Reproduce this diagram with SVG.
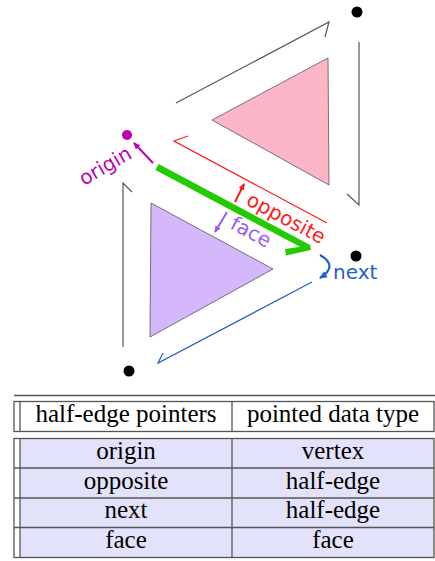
<svg xmlns="http://www.w3.org/2000/svg" width="435" height="561" viewBox="0 0 435 561">
<style>
.edge{fill:none;stroke:#555;stroke-width:1.2}
.lbl{font-family:"DejaVu Sans",sans-serif;font-size:20px}
.tt{font-family:"Liberation Serif",serif;font-size:25px;fill:#000;text-anchor:middle}
.tl{stroke:#555;stroke-width:1.3;fill:none}
</style>
<defs>
<marker id="mM" markerWidth="8" markerHeight="8" refX="6" refY="4" orient="auto" markerUnits="userSpaceOnUse"><path d="M0,1 L7,4 L0,7 z" fill="#c000b0"/></marker>
<marker id="mR" markerWidth="8" markerHeight="8" refX="6" refY="4" orient="auto" markerUnits="userSpaceOnUse"><path d="M0,1 L7,4 L0,7 z" fill="#ff1a1a"/></marker>
<marker id="mP" markerWidth="8" markerHeight="8" refX="6" refY="4" orient="auto" markerUnits="userSpaceOnUse"><path d="M0,1 L7,4 L0,7 z" fill="#9a5cf0"/></marker>
<marker id="mB" markerWidth="10" markerHeight="10" refX="7" refY="5" orient="auto" markerUnits="userSpaceOnUse"><path d="M0,1.5 L8,5 L0,8.5 z" fill="#1f5fc8"/></marker>
</defs>

<g id="face-upper"><polygon points="212,120 328,58 329,185" fill="#fbb6c8" stroke="#555" stroke-width="0.8"/></g>
<g id="face-lower"><polygon points="151,203 273,269 150,337" fill="#d4b8fb" stroke="#555" stroke-width="0.8"/></g>

<g id="vertex-top"><circle cx="357" cy="12" r="5.5" fill="#000"/></g>
<g id="vertex-right"><circle cx="356" cy="256" r="5.5" fill="#000"/></g>
<g id="vertex-bottom"><circle cx="129" cy="371" r="5.5" fill="#000"/></g>
<g id="vertex-origin"><circle cx="127" cy="135" r="5" fill="#c000b0"/></g>

<g id="connectors">
<polyline class="edge" points="176,103 329,22 325,37"/>
<polyline class="edge" points="359,42 359,205 347,194"/>
<polyline class="edge" points="132,192 123,183 123,347"/>
<polyline points="188,136 174,141 327,223" fill="none" stroke="#ff1a1a" stroke-width="1.2"/>
<polyline points="312,282 158,363 163,353" fill="none" stroke="#1f5fc8" stroke-width="1.2"/>
<polygon points="158.6,163.9 310,245 311,250 286,255.5 285,249 300,246.8 155.4,170.1" fill="#22cc00"/>
<line x1="153" y1="163" x2="134" y2="143" stroke="#c000b0" stroke-width="2" marker-end="url(#mM)"/>
<line x1="235" y1="202" x2="244" y2="184" stroke="#ff1a1a" stroke-width="2" marker-end="url(#mR)"/>
<line x1="227" y1="212" x2="215" y2="232" stroke="#9a5cf0" stroke-width="2" marker-end="url(#mP)"/>
<path d="M320,255 Q339,266 320,278" fill="none" stroke="#1f5fc8" stroke-width="2.2" marker-end="url(#mB)"/>
</g>

<g id="labels">
<text class="lbl" fill="#c000b0" font-size="19" transform="translate(84,186) rotate(-30)">origin</text>
<text class="lbl" fill="#ff1a1a" transform="translate(245,204) rotate(28)">opposite</text>
<text class="lbl" fill="#9a5cf0" transform="translate(229,228) rotate(28)">face</text>
<text class="lbl" fill="#1f5fc8" x="333" y="279">next</text>
</g>

<g id="table">
<line x1="14" y1="395.5" x2="435" y2="395.5" stroke="#555" stroke-width="1.6"/>
<rect x="14" y="401.5" width="420" height="30" fill="#fff" class="tl"/>
<line class="tl" x1="20" y1="401.5" x2="20" y2="431.5"/>
<line class="tl" x1="232" y1="401.5" x2="232" y2="431.5"/>
<text class="tt" x="126" y="422">half-edge pointers</text>
<text class="tt" x="333" y="422">pointed data type</text>

<rect x="20" y="438.5" width="414" height="119" fill="#e2e2fb"/>
<rect x="14" y="438.5" width="420" height="119" class="tl"/>
<line class="tl" x1="20" y1="438.5" x2="20" y2="557.5"/>
<line class="tl" x1="232" y1="438.5" x2="232" y2="557.5"/>
<line class="tl" x1="14" y1="468" x2="434" y2="468"/>
<line class="tl" x1="14" y1="498" x2="434" y2="498"/>
<line class="tl" x1="14" y1="527.5" x2="434" y2="527.5"/>
<text class="tt" x="126" y="459">origin</text>
<text class="tt" x="333" y="459">vertex</text>
<text class="tt" x="126" y="489">opposite</text>
<text class="tt" x="333" y="489">half-edge</text>
<text class="tt" x="126" y="518">next</text>
<text class="tt" x="333" y="518">half-edge</text>
<text class="tt" x="126" y="548">face</text>
<text class="tt" x="333" y="548">face</text>
</g>
</svg>
